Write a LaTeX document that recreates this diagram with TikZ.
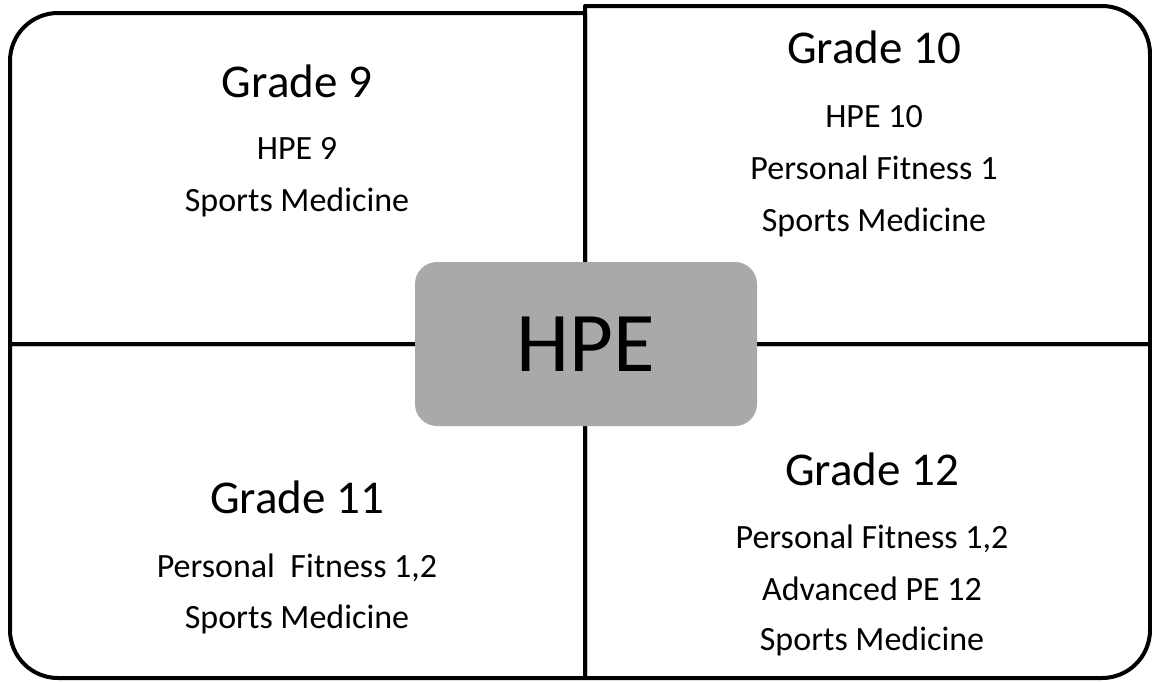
\documentclass[tikz,border=0pt]{standalone}
\usepackage{fontspec}
\setmainfont{Carlito}
\usepackage{tikz}
\definecolor{boxgray}{RGB}{169,169,169}
\newcommand{\grade}[4]{\node[grade] (#1) at (#2,#3) {#4};}
\newcommand{\course}[4]{\node[course] (#1) at (#2,#3) {#4};}
\tikzset{
  frame/.style={line width=4pt,line join=round},
  grade/.style={anchor=base,inner sep=0pt,font=\fontsize{47}{56}\selectfont},
  course/.style={anchor=base,inner sep=0pt,font=\fontsize{34}{40}\selectfont},
  hub/.style={fill=boxgray,rounded corners=22pt,minimum width=342pt,minimum height=164pt,
    inner sep=0pt,font=\fontsize{85}{100}\selectfont}
}

\begin{document}
\begin{tikzpicture}[x=1pt,y=-1pt]
  \useasboundingbox (0,0) rectangle (1152,681);

  % quadrants
  \draw[frame] (585,344) -- (10,344) -- (10,61)
    .. controls (10,34.5) and (31.5,13) .. (58,13) -- (585,13) -- cycle;
  \draw[frame] (585,344) -- (585,6) -- (1102,6)
    .. controls (1128.5,6) and (1150,27.5) .. (1150,54) -- (1150,344) -- cycle;
  \draw[frame] (585,344) -- (10,344) -- (10,630)
    .. controls (10,656.5) and (31.5,678) .. (58,678) -- (585,678) -- cycle;
  \draw[frame] (585,344) -- (1150,344) -- (1150,630)
    .. controls (1150,656.5) and (1128.5,678) .. (1102,678) -- (585,678) -- cycle;

  % centre
  \node[hub] (hpe) at (586,344) {HPE};

  % grade 9
  \grade{g9}{297}{97}{Grade 9}
  \course{g9a}{297}{159}{HPE 9}
  \course{g9b}{297}{211}{Sports Medicine}

  % grade 10
  \grade{g10}{874}{63}{Grade 10}
  \course{g10a}{874}{127}{HPE 10}
  \course{g10b}{874}{179}{Personal Fitness 1}
  \course{g10c}{874}{231}{Sports Medicine}

  % grade 11
  \grade{g11}{297}{513}{Grade 11}
  \course{g11a}{297}{577}{Personal\ \ Fitness 1,2}
  \course{g11b}{297}{628}{Sports Medicine}

  % grade 12
  \grade{g12}{872}{485}{Grade 12}
  \course{g12a}{872}{548}{Personal Fitness 1,2}
  \course{g12b}{872}{600}{Advanced PE 12}
  \course{g12c}{872}{650}{Sports Medicine}
\end{tikzpicture}
\end{document}
